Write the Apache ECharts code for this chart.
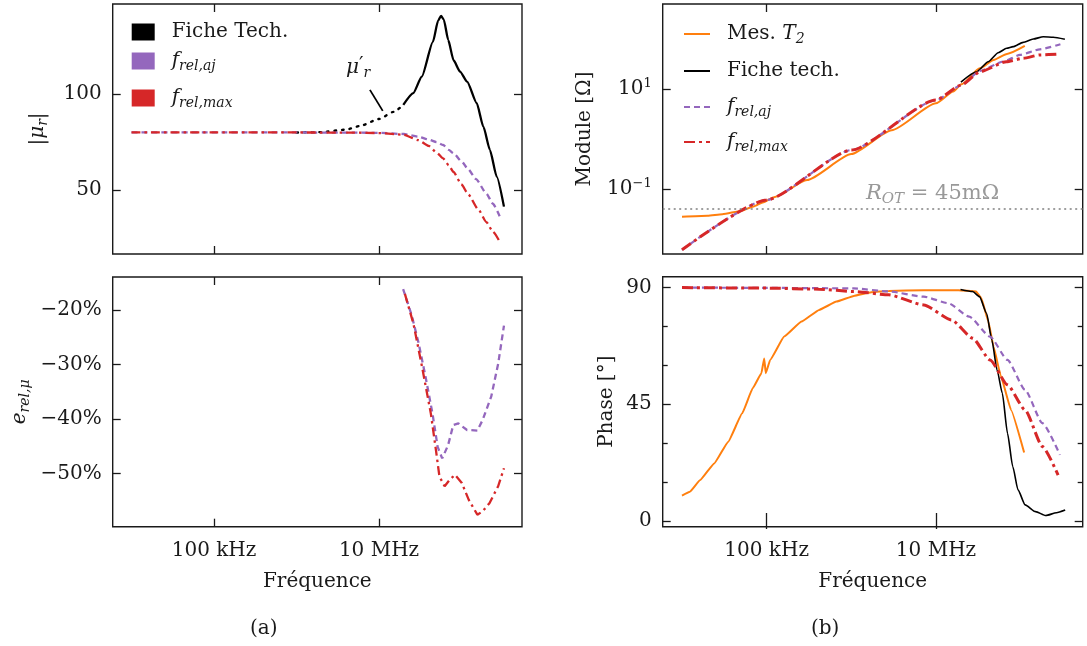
<!DOCTYPE html>
<html><head><meta charset="utf-8">
<script src="https://cdn.jsdelivr.net/npm/echarts@6/dist/echarts.min.js"></script>
<style>html,body{margin:0;padding:0;background:#fff}#c{width:1087px;height:646px}</style>
</head><body><div id="c"></div>
<script>
// ---------- data (frequencies in Hz) ----------
const xTicks = [1e5, 1e7];
const xTickLabels = ['100 kHz', '10 MHz'];
const muTicks = [50, 100];
const errTicks = [-50, -40, -30, -20];
const zTicks = [0.1, 10];
const zTickExp = ['−1', '1'];
const phTicks = [0, 45, 90];
const phMinor = [15, 30, 60, 75];

// (a) |mu_r|
const muDsDotF = [1e6, 2e6, 4e6, 6e6, 10e6, 15e6, 19.7e6];
const muDsDotV = [80, 80.2, 81.5, 83.5, 87, 90.7, 94.3];
const muDsF = [19.7e6, 26e6, 33e6, 45e6, 52e6, 56.5e6, 61e6, 69e6, 80e6, 96e6, 117e6, 153e6, 184e6, 221e6, 267e6, 327e6];
const muDsV = [94.3, 100.4, 109, 127, 138, 140.5, 138.6, 128, 117.5, 111.6, 106.4, 95.2, 83, 70.9, 57.1, 41.5];
const muAjF = [10e3, 100e3, 1e6, 5e6, 10e6, 20e6, 30e6, 40e6, 50e6, 60e6, 70e6, 80e6, 100e6, 120e6, 150e6, 200e6, 240e6, 290e6];
const muAjV = [80, 80, 80, 79.9, 79.8, 79.2, 77.8, 76.3, 75, 73.5, 71, 69.2, 65, 61, 55.8, 48.3, 43, 36.5];
const muMaxF = [10e3, 100e3, 1e6, 5e6, 10e6, 20e6, 30e6, 40e6, 50e6, 60e6, 70e6, 80e6, 100e6, 120e6, 160e6, 200e6, 240e6, 287e6];
const muMaxV = [80, 80, 80, 79.9, 79.7, 78.8, 76, 73, 69.5, 66.5, 63, 59.5, 53, 48, 40, 33.5, 28.5, 23.7];
const annF = [7.76e6, 11.1e6];
const annV = [102.1, 91.2];

// (a) relative error [%]
const errAjF = [19.6e6, 24.9e6, 30.3e6, 36.7e6, 44.5e6, 51.4e6, 58.3e6, 68.7e6, 79.4e6, 91.6e6, 116.7e6, 155.6e6, 179.9e6, 229e6, 278e6, 327e6];
const errAjV = [-16.2, -21, -26.2, -32.3, -39, -45.1, -47.2, -44.8, -41.1, -40.8, -42, -42.1, -40.2, -35.9, -29.9, -22.9];
const errMaxF = [20.6e6, 26.2e6, 33.3e6, 42.5e6, 49e6, 54e6, 62.4e6, 72.1e6, 83.4e6, 100.9e6, 122.5e6, 155.6e6, 179.9e6, 218e6, 278e6, 327e6];
const errMaxV = [-17.1, -22.6, -30.5, -39, -45.7, -50.5, -52.3, -51.1, -50.2, -51.7, -54.8, -57.5, -56.9, -55.4, -52.3, -49];

// (b) module [ohm]
const zMesF = [10e3, 20e3, 30e3, 50e3, 70e3, 90e3, 125e3, 300e3, 1e6, 3e6, 10e6, 16e6, 20e6, 33e6, 48e6, 69e6, 112e6];
const zMesV = [0.0278, 0.0292, 0.0313, 0.0363, 0.0447, 0.0537, 0.0692, 0.151, 0.501, 1.51, 5.25, 9.0, 12.6, 26.3, 38.9, 51.3, 74.1];
const zDsF = [19.7e6, 30.2e6, 41.4e6, 54.3e6, 68.4e6, 81.7e6, 107e6, 141e6, 185e6, 243e6, 333e6];
const zDsV = [14.0, 22.5, 35.8, 54.2, 66.4, 71.6, 87.5, 102, 113.5, 110.4, 100.7];
const zAjF = [10e3, 100e3, 1e6, 10e6, 20e6, 33e6, 62e6, 98e6, 169e6, 295e6];
const zAjV = [0.00603, 0.0603, 0.603, 6.03, 12.1, 23.4, 35.8, 48.8, 63.4, 80.0];
const zMaxF = [10e3, 100e3, 1e6, 10e6, 20e6, 33e6, 68e6, 107e6, 169e6, 282e6];
const zMaxV = [0.00603, 0.0603, 0.603, 6.1, 12.2, 22.4, 35.8, 41.9, 48.8, 51.0];
const rOT = 0.045;

// (b) phase [deg]
const phMesF = [10e3, 12.4e3, 16.4e3, 24e3, 35.2e3, 51.4e3, 68.4e3, 86.7e3, 93.5e3, 97.7e3, 110e3, 161e3, 258e3, 416e3, 668e3, 1.07e6, 1.73e6, 2.77e6, 7.18e6, 18.5e6, 29.8e6, 34.4e6, 41.6e6, 47.9e6, 57.9e6, 77.1e6, 110e6];
const phMesV = [9.8, 11.3, 15.8, 22.2, 30.6, 41.5, 51.2, 57.0, 62.7, 57.0, 62.1, 71.1, 76.9, 81.4, 84.6, 86.8, 88.2, 88.7, 89.0, 89.0, 88.5, 85.9, 76.9, 67.2, 56.3, 42.8, 26.4];
const phDsF = [19.5e6, 27.1e6, 32.7e6, 39.6e6, 45.7e6, 52.7e6, 60.8e6, 70e6, 80.7e6, 93.1e6, 113e6, 150e6, 199e6, 265e6, 336e6];
const phDsV = [89.3, 88.5, 86.5, 80.1, 69.8, 58.2, 49.2, 33.8, 21.0, 12.0, 6.2, 3.6, 2.1, 3.2, 4.2];
const phAjF = [10e3, 100e3, 1.07e6, 2.77e6, 7.18e6, 13.9e6, 24.7e6, 43.6e6, 70e6, 113e6, 181e6, 291e6];
const phAjV = [90, 89.9, 89.7, 88.5, 86.5, 84.0, 78.8, 71.1, 62.1, 50.5, 37.7, 25.5];
const phMaxF = [10e3, 100e3, 416e3, 1.07e6, 2.77e6, 7.18e6, 15.3e6, 27.1e6, 43.6e6, 70e6, 113e6, 181e6, 277e6];
const phMaxV = [90, 89.8, 89.4, 88.5, 87.2, 83.3, 77.5, 70.5, 62.1, 52.5, 42.8, 28.7, 17.7];

// ---------- styling / layout ----------
const FONT = 'DejaVu Serif';
const INK = '#1a1a1a';
const C_ORANGE = '#ff7f0e', C_PURPLE = '#9467bd', C_RED = '#d62728', C_BLACK = '#000000';
const X_MIN = 5916, X_MAX = 5.41e8;
const RICH = {
  i: {fontFamily: FONT, fontStyle: 'italic', fontSize: 20, color: INK},
  s: {fontFamily: FONT, fontStyle: 'italic', fontSize: 14, color: INK, padding: [11, 0, 0, 0]},
  sup: {fontFamily: FONT, fontSize: 13, color: INK, padding: [0, 0, 11, 0]},
  pr: {fontFamily: FONT, fontSize: 20, color: INK, padding: [0, 0, 4, 0]},
  n: {fontFamily: FONT, fontSize: 20, color: INK}
};

function pairs(xs, ys) { return xs.map((x, i) => [x, ys[i]]); }
function closeIdx(arr, v) {
  let best = 0;
  arr.forEach((t, i) => { if (Math.abs(Math.log10(Math.abs(t)) - Math.log10(Math.abs(v))) < Math.abs(Math.log10(Math.abs(arr[best])) - Math.log10(Math.abs(v)))) best = i; });
  return best;
}

function axis(o) {
  const ax = {
    type: o.type || 'value', gridIndex: o.grid, position: o.pos, min: o.min, max: o.max,
    axisLine: {show: false}, splitLine: {show: false}, minorTick: {show: false}, minorSplitLine: {show: false},
    axisTick: {show: true, inside: true, length: o.len || 8, lineStyle: {color: INK, width: 1.3}, customValues: o.ticks},
    axisLabel: {show: !!o.fmt, customValues: o.ticks, formatter: o.fmt, margin: o.margin || 11,
      fontFamily: FONT, fontSize: 20, color: INK, rich: RICH},
    name: o.name || '', nameLocation: 'middle', nameGap: o.gap || 0,
    nameTextStyle: {fontFamily: FONT, fontSize: 20, color: INK, rich: RICH}
  };
  if (ax.type === 'log') ax.logBase = 10;
  return ax;
}
const xFmt = v => xTickLabels[closeIdx(xTicks, v)];

const xAxes = [];
const yAxes = [];
[0, 1, 2, 3].forEach(g => {
  const lab = (g === 1 || g === 3);
  xAxes.push(axis({type: 'log', grid: g, pos: 'bottom', min: X_MIN, max: X_MAX, ticks: xTicks,
    fmt: lab ? xFmt : null, margin: 14, name: lab ? 'Fréquence' : '', gap: 45}));
  xAxes.push(axis({type: 'log', grid: g, pos: 'top', min: X_MIN, max: X_MAX, ticks: xTicks}));
});
// grid 0 : |mu_r|
yAxes.push(axis({grid: 0, pos: 'left', min: 16.9, max: 146.7, ticks: muTicks, fmt: v => String(v),
  name: '|{i|μ}{s|r}|', gap: 62}));
yAxes.push(axis({grid: 0, pos: 'right', min: 16.9, max: 146.7, ticks: muTicks}));
// grid 1 : error
yAxes.push(axis({grid: 1, pos: 'left', min: -59.7, max: -14.0, ticks: errTicks,
  fmt: v => '−' + Math.abs(Math.round(v)) + '%', name: '{i|e}{s|rel,μ}', gap: 80}));
yAxes.push(axis({grid: 1, pos: 'right', min: -59.7, max: -14.0, ticks: errTicks}));
// grid 2 : module (log)
yAxes.push(axis({type: 'log', grid: 2, pos: 'left', min: 0.004966, max: 514, ticks: zTicks,
  fmt: v => '10{sup|' + zTickExp[closeIdx(zTicks, v)] + '}', name: 'Module [Ω]', gap: 68}));
yAxes.push(axis({type: 'log', grid: 2, pos: 'right', min: 0.004966, max: 514, ticks: zTicks}));
// grid 3 : phase
yAxes.push(axis({grid: 3, pos: 'left', min: -2.2, max: 94.2, ticks: phTicks, fmt: v => String(Math.round(v)),
  name: 'Phase [°]', gap: 46}));
yAxes.push(axis({grid: 3, pos: 'right', min: -2.2, max: 94.2, ticks: phTicks}));
yAxes.push(axis({grid: 3, pos: 'left', min: -2.2, max: 94.2, ticks: phMinor, len: 5}));
yAxes.push(axis({grid: 3, pos: 'right', min: -2.2, max: 94.2, ticks: phMinor, len: 5}));

function line(name, xi, yi, xs, ys, color, width, type, extra) {
  return Object.assign({
    type: 'line', name, xAxisIndex: xi, yAxisIndex: yi, data: pairs(xs, ys),
    symbol: 'none', showSymbol: false, smooth: 0.2, smoothMonotone: 'x', color,
    lineStyle: {color, width, type: type || 'solid', cap: 'butt'},
    emphasis: {disabled: true}, silent: true, clip: true
  }, extra || {});
}

const DASH = [6, 4];
const DASHDOT = [9, 4, 2.5, 4];
const DASHDOT_B = [11, 4, 3, 4];

const series = [
  // (a) top
  line('mu_dot', 0, 0, muDsDotF, muDsDotV, C_BLACK, 2.3, [1.6, 6], {lineStyle: {color: C_BLACK, width: 2.4, type: [1.6, 6], cap: 'round'}}),
  line('Fiche Tech.', 0, 0, muDsF, muDsV, C_BLACK, 2.3),
  line('aj_a', 0, 0, muAjF, muAjV, C_PURPLE, 2.3, DASH),
  line('max_a', 0, 0, muMaxF, muMaxV, C_RED, 2.3, DASHDOT),
  line('ann', 0, 0, annF, annV, C_BLACK, 1.8, 'solid', {smooth: false}),
  // (a) bottom
  line('aj_a', 2, 2, errAjF, errAjV, C_PURPLE, 2.3, DASH, {smooth: false}),
  line('max_a', 2, 2, errMaxF, errMaxV, C_RED, 2.3, DASHDOT, {smooth: false}),
  // (b) top
  line('Mes', 4, 4, zMesF, zMesV, C_ORANGE, 2, 'solid', {
    markLine: {silent: true, symbol: 'none', label: {show: false},
      lineStyle: {color: '#808080', width: 1.6, type: [2, 3.5]}, data: [{yAxis: rOT}]}
  }),
  line('Fiche tech.', 4, 4, zDsF, zDsV, C_BLACK, 1.6),
  line('aj_b', 4, 4, zAjF, zAjV, C_PURPLE, 2.2, DASH),
  line('max_b', 4, 4, zMaxF, zMaxV, C_RED, 3, DASHDOT_B),
  // (b) bottom
  line('Mes', 6, 6, phMesF, phMesV, C_ORANGE, 2, 'solid', {smooth: 0.1}),
  line('Fiche tech.', 6, 6, phDsF, phDsV, C_BLACK, 1.6),
  line('aj_b', 6, 6, phAjF, phAjV, C_PURPLE, 2.2, DASH),
  line('max_b', 6, 6, phMaxF, phMaxV, C_RED, 3, DASHDOT_B)
];

const LEG_TEXT = {
  'Fiche Tech.': '{n|Fiche Tech.}',
  'aj_a': '{i|f}{s|rel,aj}',
  'max_a': '{i|f}{s|rel,max}',
  'Mes': '{n|Mes. }{i|T}{s|2}',
  'Fiche tech.': '{n|Fiche tech.}',
  'aj_b': '{i|f}{s|rel,aj}',
  'max_b': '{i|f}{s|rel,max}'
};
function legend(name, left, top, rect) {
  const l = {
    data: [name], left, top, padding: 0, orient: 'vertical', selectedMode: false,
    formatter: n => LEG_TEXT[n],
    textStyle: {fontFamily: FONT, fontSize: 20, color: INK, padding: [0, 0, 0, 12], rich: RICH}
  };
  if (rect) { l.icon = 'rect'; l.itemWidth = 23; l.itemHeight = 17; l.itemStyle = {borderWidth: 0}; }
  else { l.itemWidth = 26; l.itemHeight = 14; l.itemStyle = {opacity: 0, borderWidth: 0}; }
  return l;
}

const gridBase = {show: true, borderColor: INK, borderWidth: 1.4, backgroundColor: 'transparent', containLabel: false, outerBoundsMode: 'none'};
const option = {
  animation: false,
  backgroundColor: '#ffffff',
  textStyle: {fontFamily: FONT},
  grid: [
    Object.assign({left: 112.7, top: 4, width: 409.3, height: 250}, gridBase),
    Object.assign({left: 112.7, top: 277, width: 409.3, height: 249.7}, gridBase),
    Object.assign({left: 662.7, top: 4, width: 420, height: 250}, gridBase),
    Object.assign({left: 662.7, top: 276.7, width: 420, height: 250}, gridBase)
  ],
  xAxis: xAxes,
  yAxis: yAxes,
  legend: [
    legend('Fiche Tech.', 131.7, 22, true),
    legend('aj_a', 131.7, 51, true),
    legend('max_a', 131.7, 88, true),
    legend('Mes', 683, 24, false),
    legend('Fiche tech.', 683, 61, false),
    legend('aj_b', 683, 97, false),
    legend('max_b', 683, 132, false)
  ],
  graphic: [
    {type: 'text', left: 250, top: 619, style: {text: '(a)', font: '20px "DejaVu Serif"', fill: INK}},
    {type: 'text', left: 811, top: 619, style: {text: '(b)', font: '20px "DejaVu Serif"', fill: INK}},
    {type: 'text', left: 346, top: 56, style: {text: '{i|μ}{pr|′}{s|r}', rich: RICH, font: '20px "DejaVu Serif"', fill: INK}},
    {type: 'text', left: 866, top: 183, style: {text: '{gi|R}{gs|OT}{g| = 45mΩ}', font: '20px "DejaVu Serif"', fill: '#999999',
      rich: {
        gi: {fontFamily: FONT, fontStyle: 'italic', fontSize: 21, color: '#999999'},
        gs: {fontFamily: FONT, fontStyle: 'italic', fontSize: 15, color: '#999999', padding: [11, 0, 0, 0]},
        g: {fontFamily: FONT, fontSize: 21, color: '#999999'}
      }}}
  ],
  series
};
const chart = echarts.init(document.getElementById('c'), null, {renderer: 'canvas'});
chart.setOption(option);
</script></body></html>
